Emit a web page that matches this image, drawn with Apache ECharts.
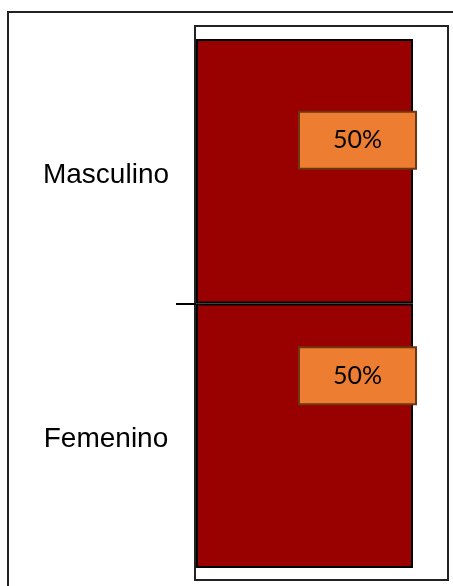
<!DOCTYPE html>
<html>
<head>
<meta charset="utf-8">
<script src="https://cdn.jsdelivr.net/npm/echarts@6/dist/echarts.min.js"></script>
<style>
html,body{margin:0;padding:0;background:#fff;}
#chart{width:453px;height:586px;}
</style>
</head>
<body>
<div id="chart"></div>
<script>
// Data
const categories = ['Femenino', 'Masculino'];
const values = [50, 50];
const labelTexts = ['50%', '50%'];
const labelOffsets = [[2, -60], [2, -31]];
const dividerTicks = [1];

const chart = echarts.init(document.getElementById('chart'), null, {renderer: 'canvas'});
const option = {
  animation: false,
  backgroundColor: '#fff',
  graphic: [
    {type: 'rect', shape: {x: 8, y: 12, width: 460, height: 590}, style: {fill: 'none', stroke: '#222', lineWidth: 2}, z: 0},
    {type: 'rect', shape: {x: 195, y: 26, width: 253, height: 554}, style: {fill: 'none', stroke: '#222', lineWidth: 2}, z: 0}
  ],
  grid: {left: 196, right: 40, top: 39, bottom: 18, containLabel: false},
  xAxis: {type: 'value', min: 0, max: 50, show: false},
  yAxis: [{
    type: 'category',
    data: categories,
    boundaryGap: true,
    axisLine: {show: false},
    axisTick: {show: false},
    axisLabel: {
      margin: 90, align: 'center', verticalAlign: 'top', lineHeight: 8,
      color: '#000',
      fontFamily: 'Liberation Sans, Arial, sans-serif', fontSize: 28
    },
    splitLine: {show: false}
  }, {
    type: 'value',
    position: 'left',
    min: 0,
    max: categories.length,
    axisLine: {show: false},
    axisLabel: {show: false},
    splitLine: {show: false},
    axisTick: {show: true, length: 20, customValues: dividerTicks, lineStyle: {color: '#000', width: 2}}
  }],
  series: [{
    type: 'bar',
    data: values.map((v, i) => ({
      value: v,
      label: {
        show: true,
        formatter: labelTexts[i],
        position: ['100%', '50%'],
        align: 'right',
        verticalAlign: 'middle',
        offset: labelOffsets[i],
        color: '#000',
        fontFamily: 'Lato, Open Sans, sans-serif',
        fontSize: 25,
        lineHeight: 27,
        backgroundColor: '#ED7D31',
        borderColor: '#6e3510',
        borderWidth: 2,
        padding: [14, 33, 14, 33]
      }
    })),
    barWidth: '100%',
    barCategoryGap: '0%',
    itemStyle: {color: '#990000', borderColor: '#000', borderWidth: 2},
    z: 2
  }]
};
chart.setOption(option);
</script>
</body>
</html>
